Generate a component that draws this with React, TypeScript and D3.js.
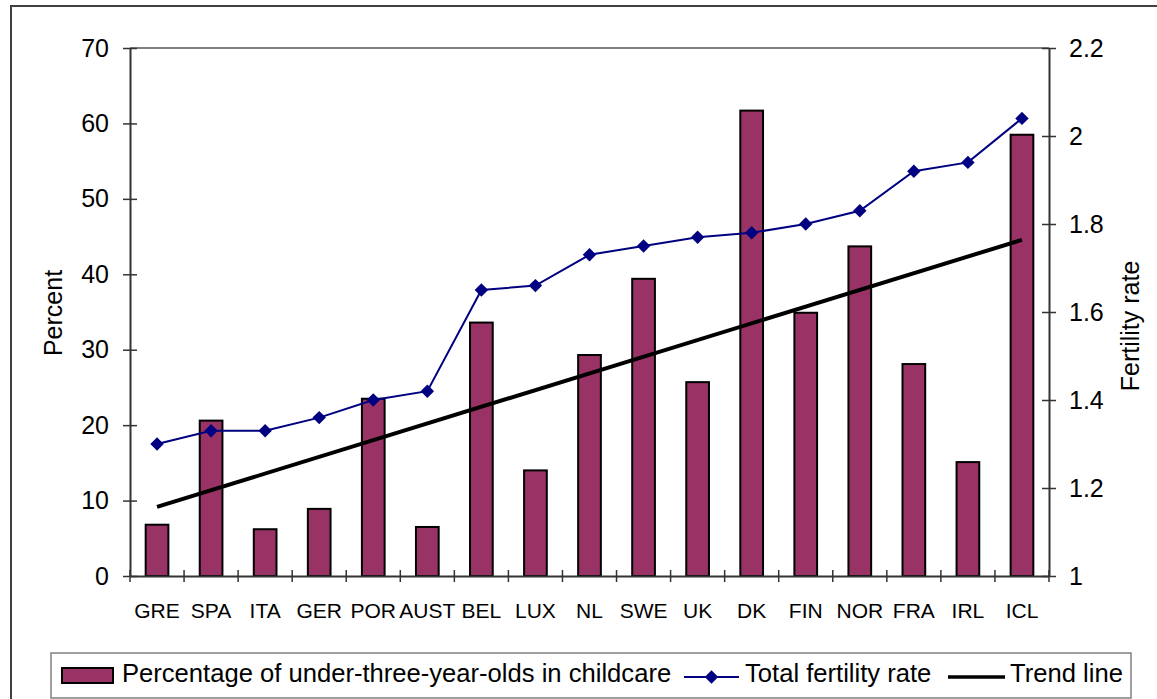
import React, { useEffect, useRef } from 'react';
import * as d3 from 'd3';

// Countries on the x axis
const countries = ['GRE', 'SPA', 'ITA', 'GER', 'POR', 'AUST', 'BEL', 'LUX', 'NL', 'SWE', 'UK', 'DK', 'FIN', 'NOR', 'FRA', 'IRL', 'ICL'];
// Percentage of under-three-year-olds in childcare
const childcare = [6.8, 20.6, 6.2, 8.9, 23.5, 6.5, 33.6, 14.0, 29.3, 39.4, 25.7, 61.7, 34.9, 43.7, 28.1, 15.1, 58.5];
// Total fertility rate
const fertility = [1.30, 1.33, 1.33, 1.36, 1.40, 1.42, 1.65, 1.66, 1.73, 1.75, 1.77, 1.78, 1.80, 1.83, 1.92, 1.94, 2.04];
// Trend line end points (fertility scale)
const trendCountries = ['GRE', 'ICL'];
const trendValues = [1.157, 1.764];

const percentTicks = [0, 10, 20, 30, 40, 50, 60, 70];
const fertilityTicks = [1, 1.2, 1.4, 1.6, 1.8, 2, 2.2];

const W = 1157;
const H = 699;
const FONT = 'Arial, "Liberation Sans", sans-serif';
const BAR = '#993366';
const NAVY = '#000080';
const AXIS = '#333';

const App: React.FC = () => {
  const svgRef = useRef<SVGSVGElement>(null);

  useEffect(() => {
    if (!svgRef.current) return;
    const svg = d3.select(svgRef.current);
    svg.selectAll('*').remove();

    const left = 130, right = 1049, top = 48, bottom = 576;

    const x = d3.scaleBand<string>().domain(countries).range([left, right]);
    const yL = d3.scaleLinear().domain([0, 70]).range([bottom, top]);
    const yR = d3.scaleLinear().domain([1, 2.2]).range([bottom, top]);
    const cx = (c: string) => (x(c) as number) + x.bandwidth() / 2;
    const barW = x.bandwidth() * 0.42;

    // outer chart border
    svg.append('rect')
      .attr('x', 11).attr('y', 6)
      .attr('width', W + 20).attr('height', H + 20)
      .attr('fill', 'white').attr('stroke', '#404040').attr('stroke-width', 2);

    // plot area top edge
    svg.append('line')
      .attr('x1', left).attr('x2', right).attr('y1', top).attr('y2', top)
      .attr('stroke', '#808080').attr('stroke-width', 2);

    // bars
    svg.append('g').selectAll('rect')
      .data(countries)
      .join('rect')
      .attr('x', d => cx(d) - barW / 2)
      .attr('y', (d, i) => yL(childcare[i]))
      .attr('width', barW)
      .attr('height', (d, i) => bottom - yL(childcare[i]))
      .attr('fill', BAR)
      .attr('stroke', 'black')
      .attr('stroke-width', 2);

    // trend line
    const trend = d3.line<number>()
      .x((d, i) => cx(trendCountries[i]))
      .y(d => yR(d));
    svg.append('path')
      .datum(trendValues)
      .attr('d', trend)
      .attr('fill', 'none')
      .attr('stroke', 'black')
      .attr('stroke-width', 4);

    // fertility line
    const line = d3.line<number>()
      .x((d, i) => cx(countries[i]))
      .y(d => yR(d));
    svg.append('path')
      .datum(fertility)
      .attr('d', line)
      .attr('fill', 'none')
      .attr('stroke', NAVY)
      .attr('stroke-width', 2);

    const diamond = d3.symbol().type(d3.symbolSquare).size(90);
    svg.append('g').selectAll('path')
      .data(fertility)
      .join('path')
      .attr('d', diamond as any)
      .attr('transform', (d, i) => `translate(${cx(countries[i])},${yR(d)}) rotate(45)`)
      .attr('fill', NAVY);

    // axes
    const leftAxis = svg.append('g').attr('transform', `translate(${left},0)`)
      .call(d3.axisLeft(yL).tickValues(percentTicks).tickSize(7).tickSizeOuter(0).tickPadding(14));
    leftAxis.selectAll('.tick line').attr('x2', 7).attr('x1', -7);

    const rightAxis = svg.append('g').attr('transform', `translate(${right},0)`)
      .call(d3.axisRight(yR).tickValues(fertilityTicks).tickFormat(d3.format('~g')).tickSize(7).tickSizeOuter(0).tickPadding(13));
    rightAxis.selectAll('.tick line').attr('x1', -7).attr('x2', 7);

    const bottomAxis = svg.append('g').attr('transform', `translate(0,${bottom})`)
      .call(d3.axisBottom(x).tickSize(0).tickSizeOuter(0).tickPadding(27));
    // ticks at category boundaries
    bottomAxis.selectAll('.boundary')
      .data(d3.range(countries.length + 1))
      .join('line')
      .attr('x1', i => left + i * x.step())
      .attr('x2', i => left + i * x.step())
      .attr('y1', -6).attr('y2', 6)
      .attr('stroke', AXIS).attr('stroke-width', 1.5);

    [leftAxis, rightAxis, bottomAxis].forEach(a => {
      a.select('.domain').attr('stroke', AXIS).attr('stroke-width', 2);
      a.selectAll('.tick line').attr('stroke', AXIS).attr('stroke-width', 1.5);
      a.selectAll('text').attr('font-family', FONT).attr('font-size', 25).attr('fill', 'black');
    });
    bottomAxis.selectAll('text').attr('font-size', 21);

    // axis titles
    svg.append('text')
      .attr('transform', `translate(62,313) rotate(-90)`)
      .attr('text-anchor', 'middle')
      .attr('font-family', FONT).attr('font-size', 25)
      .text('Percent');
    svg.append('text')
      .attr('transform', `translate(1139,326) rotate(-90)`)
      .attr('text-anchor', 'middle')
      .attr('font-family', FONT).attr('font-size', 25)
      .text('Fertility rate');

    // legend
    const lg = svg.append('g');
    lg.append('rect')
      .attr('x', 51).attr('y', 653).attr('width', 1080).attr('height', 45)
      .attr('fill', 'white').attr('stroke', '#808080').attr('stroke-width', 1.5);
    lg.append('rect')
      .attr('x', 62).attr('y', 668).attr('width', 51).attr('height', 15)
      .attr('fill', BAR).attr('stroke', 'black').attr('stroke-width', 2);
    lg.append('line')
      .attr('x1', 684).attr('x2', 739).attr('y1', 677).attr('y2', 677)
      .attr('stroke', NAVY).attr('stroke-width', 2);
    lg.append('path')
      .attr('d', diamond as any)
      .attr('transform', 'translate(711.5,677) rotate(45)')
      .attr('fill', NAVY);
    lg.append('line')
      .attr('x1', 948).attr('x2', 1005).attr('y1', 677).attr('y2', 677)
      .attr('stroke', 'black').attr('stroke-width', 3.5);
    const legendText = [
      { x: 122, t: 'Percentage of under-three-year-olds in childcare' },
      { x: 745, t: 'Total fertility rate' },
      { x: 1010, t: 'Trend line' },
    ];
    lg.selectAll('text.lt')
      .data(legendText)
      .join('text')
      .attr('x', d => d.x).attr('y', 682)
      .attr('font-family', FONT).attr('font-size', 25.6)
      .text(d => d.t);
  }, []);

  return (
    <div style={{ position: 'fixed', left: 0, top: 0 }}>
      <svg ref={svgRef} width={W} height={H} style={{ display: 'block', background: 'white' }} />
    </div>
  );
};

export default App;
